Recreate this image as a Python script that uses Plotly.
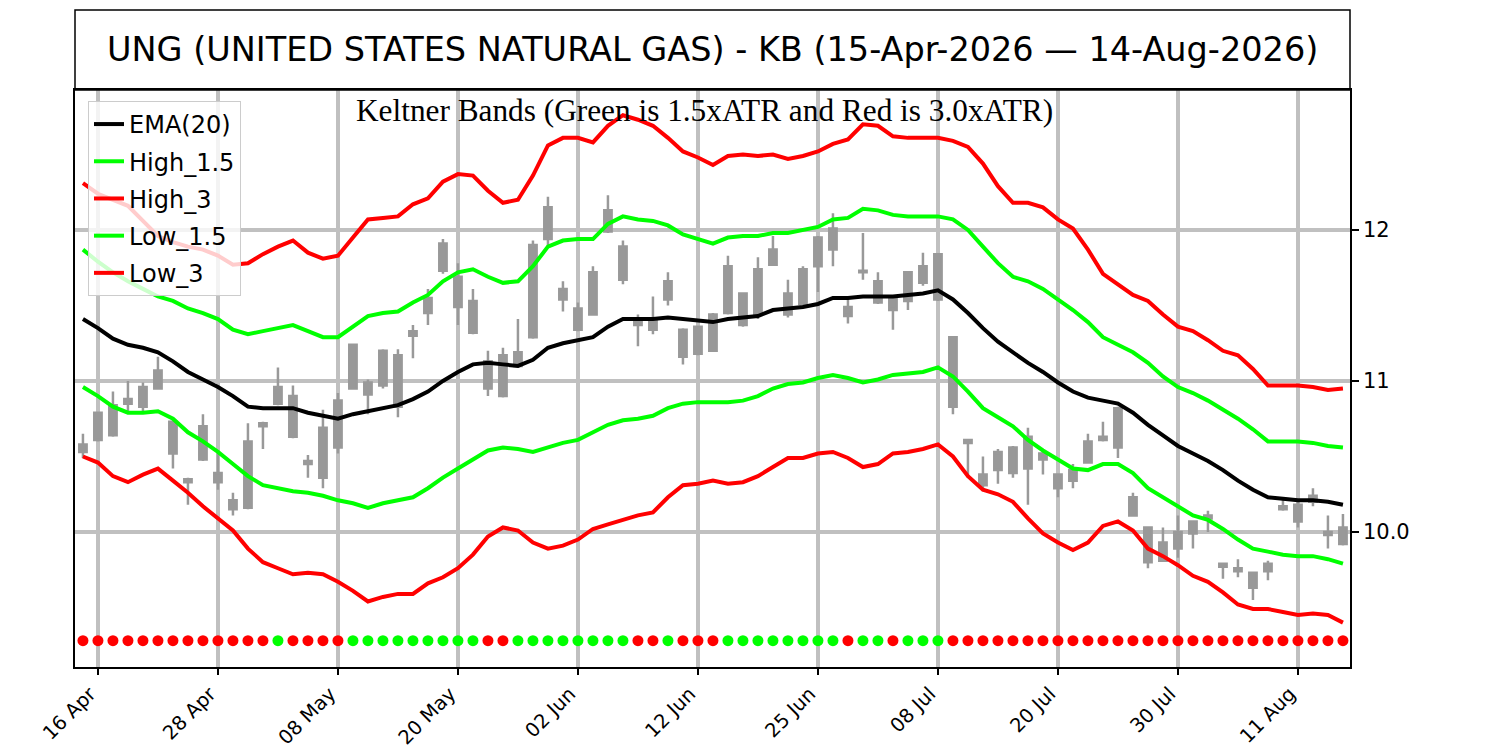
import pandas as pd
import plotly.graph_objects as go

# trading days 15-Apr-2026 .. 14-Aug-2026 (US market holidays removed)
holidays = ["2026-05-25", "2026-06-19", "2026-07-03"]
days = pd.bdate_range("2026-04-15", "2026-08-14")
days = days[~days.isin(pd.to_datetime(holidays))]
dates = [d.strftime("%Y-%m-%d") for d in days]

opens = [10.53, 10.61, 10.64, 10.85, 10.83, 10.95, 10.73, 10.35, 10.48, 10.39,
         10.21, 10.16, 10.70, 10.85, 10.90, 10.47, 10.36, 10.56, 10.95, 10.99,
         10.97, 11.17, 11.30, 11.45, 11.73, 11.69, 11.53, 11.13, 11.17, 11.10,
         11.29, 11.94, 11.61, 11.48, 11.44, 11.99, 11.89, 11.39, 11.41, 11.54,
         11.34, 11.18, 11.20, 11.45, 11.58, 11.44, 11.77, 11.58, 11.51, 11.76,
         11.87, 11.49, 11.72, 11.66, 11.56, 11.53, 11.65, 11.84, 11.29, 10.61,
         10.38, 10.41, 10.39, 10.42, 10.52, 10.38, 10.34, 10.46, 10.61, 10.56,
         10.23, 10.03, 9.93, 9.89, 9.99, 10.09, 9.79, 9.76, 9.73, 9.74,
         10.15, 10.18, 10.20, 10.00, 10.03]
highs = [10.65, 10.79, 10.93, 11.00, 10.99, 11.16, 10.73, 10.36, 10.78, 10.54,
         10.26, 10.72, 10.73, 11.09, 10.97, 10.51, 10.81, 10.92, 11.24, 11.01,
         11.21, 11.21, 11.37, 11.61, 11.94, 11.78, 11.61, 11.20, 11.22, 11.41,
         11.93, 12.22, 11.66, 11.52, 11.76, 12.23, 11.93, 11.44, 11.56, 11.72,
         11.35, 11.36, 11.45, 11.83, 11.58, 11.82, 11.96, 11.67, 11.76, 11.96,
         12.11, 11.55, 11.98, 11.72, 11.56, 11.72, 11.85, 11.84, 11.29, 10.61,
         10.50, 10.55, 10.57, 10.69, 10.53, 10.38, 10.45, 10.65, 10.73, 10.83,
         10.26, 10.03, 10.03, 10.11, 10.07, 10.14, 9.79, 9.82, 9.73, 9.81,
         10.22, 10.21, 10.29, 10.11, 10.12]
lows = [10.49, 10.60, 10.63, 10.80, 10.79, 10.95, 10.42, 10.18, 10.47, 10.28,
        10.11, 10.15, 10.55, 10.84, 10.62, 10.36, 10.29, 10.52, 10.95, 10.78,
        10.95, 10.76, 11.15, 11.37, 11.71, 11.37, 11.31, 10.90, 10.89, 11.09,
        11.28, 11.88, 11.46, 11.33, 11.44, 11.98, 11.64, 11.23, 11.31, 11.50,
        11.11, 11.17, 11.20, 11.44, 11.36, 11.41, 11.77, 11.42, 11.50, 11.59,
        11.76, 11.38, 11.67, 11.51, 11.34, 11.47, 11.63, 11.53, 10.78, 10.36,
        10.27, 10.32, 10.36, 10.18, 10.38, 10.23, 10.29, 10.46, 10.60, 10.49,
        10.11, 9.76, 9.81, 9.83, 9.89, 10.00, 9.69, 9.70, 9.55, 9.68,
        10.14, 10.03, 10.17, 9.89, 9.91]
closes = [10.58, 10.79, 10.84, 10.88, 10.96, 11.07, 10.52, 10.33, 10.70, 10.33,
          10.15, 10.60, 10.72, 10.96, 10.63, 10.45, 10.69, 10.87, 11.24, 10.91,
          11.20, 10.83, 11.33, 11.55, 11.91, 11.49, 11.32, 10.95, 10.90, 11.19,
          11.90, 12.15, 11.54, 11.34, 11.72, 12.13, 11.67, 11.37, 11.34, 11.66,
          11.16, 11.36, 11.44, 11.76, 11.37, 11.74, 11.87, 11.44, 11.74, 11.95,
          12.01, 11.43, 11.73, 11.52, 11.47, 11.72, 11.76, 11.54, 10.83, 10.59,
          10.31, 10.53, 10.56, 10.63, 10.48, 10.29, 10.41, 10.60, 10.63, 10.82,
          10.11, 9.80, 9.81, 10.00, 10.07, 10.11, 9.77, 9.74, 9.63, 9.79,
          10.17, 10.07, 10.24, 9.98, 9.92]

ema20 = [11.41, 11.35, 11.28, 11.24, 11.22, 11.19, 11.13, 11.06, 11.01, 10.96,
         10.90, 10.83, 10.82, 10.82, 10.82, 10.79, 10.77, 10.75, 10.78, 10.80,
         10.82, 10.84, 10.88, 10.93, 11.00, 11.06, 11.11, 11.12, 11.11, 11.10,
         11.14, 11.22, 11.25, 11.27, 11.29, 11.36, 11.41, 11.41, 11.41, 11.42,
         11.41, 11.40, 11.39, 11.41, 11.42, 11.43, 11.47, 11.48, 11.49, 11.51,
         11.55, 11.55, 11.56, 11.56, 11.56, 11.57, 11.58, 11.60, 11.54, 11.45,
         11.35, 11.26, 11.19, 11.12, 11.06, 10.99, 10.93, 10.89, 10.87, 10.85,
         10.79, 10.71, 10.64, 10.57, 10.52, 10.47, 10.41, 10.34, 10.28, 10.23,
         10.22, 10.21, 10.21, 10.20, 10.18]
high_15 = [11.87, 11.79, 11.72, 11.66, 11.61, 11.56, 11.53, 11.48, 11.45, 11.41,
           11.34, 11.31, 11.33, 11.35, 11.37, 11.33, 11.29, 11.29, 11.36, 11.43,
           11.45, 11.46, 11.52, 11.57, 11.66, 11.72, 11.74, 11.69, 11.65, 11.66,
           11.76, 11.89, 11.93, 11.94, 11.94, 12.04, 12.09, 12.07, 12.06, 12.03,
           11.97, 11.94, 11.91, 11.95, 11.96, 11.96, 11.98, 11.98, 12.00, 12.02,
           12.07, 12.08, 12.14, 12.13, 12.10, 12.09, 12.09, 12.09, 12.07, 12.00,
           11.89, 11.78, 11.69, 11.66, 11.61, 11.54, 11.47, 11.39, 11.29, 11.24,
           11.19, 11.12, 11.03, 10.96, 10.92, 10.87, 10.81, 10.75, 10.68, 10.60,
           10.60, 10.60, 10.59, 10.57, 10.56]
high_3 = [12.31, 12.24, 12.20, 12.16, 12.06, 11.96, 11.92, 11.89, 11.87, 11.83,
          11.77, 11.78, 11.84, 11.89, 11.93, 11.85, 11.81, 11.83, 11.95, 12.07,
          12.08, 12.09, 12.17, 12.21, 12.32, 12.37, 12.36, 12.26, 12.18, 12.20,
          12.36, 12.56, 12.61, 12.61, 12.58, 12.69, 12.76, 12.73, 12.69, 12.61,
          12.52, 12.48, 12.43, 12.49, 12.50, 12.49, 12.50, 12.47, 12.49, 12.52,
          12.57, 12.60, 12.70, 12.69, 12.62, 12.61, 12.61, 12.61, 12.59, 12.55,
          12.44, 12.29, 12.18, 12.18, 12.15, 12.07, 12.01, 11.87, 11.71, 11.64,
          11.57, 11.53, 11.44, 11.36, 11.33, 11.27, 11.20, 11.17, 11.08, 10.97,
          10.97, 10.97, 10.96, 10.94, 10.95]
low_15 = [10.96, 10.90, 10.83, 10.79, 10.79, 10.80, 10.75, 10.66, 10.60, 10.53,
          10.45, 10.37, 10.31, 10.29, 10.27, 10.26, 10.24, 10.21, 10.19, 10.16,
          10.19, 10.21, 10.23, 10.29, 10.36, 10.42, 10.48, 10.54, 10.56, 10.55,
          10.53, 10.56, 10.59, 10.61, 10.66, 10.71, 10.74, 10.75, 10.77, 10.82,
          10.85, 10.86, 10.86, 10.86, 10.87, 10.90, 10.95, 10.98, 10.99, 11.02,
          11.04, 11.02, 10.99, 11.01, 11.04, 11.05, 11.06, 11.09, 11.03, 10.93,
          10.82, 10.76, 10.70, 10.61, 10.54, 10.48, 10.42, 10.41, 10.45, 10.45,
          10.39, 10.29, 10.23, 10.17, 10.11, 10.08, 10.02, 9.95, 9.89, 9.87,
          9.85, 9.84, 9.84, 9.82, 9.79]
low_3 = [10.50, 10.46, 10.37, 10.33, 10.38, 10.42, 10.34, 10.26, 10.17, 10.09,
         10.01, 9.89, 9.80, 9.76, 9.72, 9.73, 9.72, 9.67, 9.61, 9.54,
         9.57, 9.59, 9.59, 9.66, 9.70, 9.76, 9.85, 9.97, 10.03, 10.01,
         9.93, 9.89, 9.91, 9.95, 10.02, 10.05, 10.08, 10.11, 10.13, 10.23,
         10.31, 10.32, 10.34, 10.32, 10.33, 10.37, 10.43, 10.49, 10.49, 10.52,
         10.53, 10.49, 10.43, 10.45, 10.52, 10.53, 10.55, 10.58, 10.50, 10.37,
         10.28, 10.25, 10.20, 10.09, 9.99, 9.93, 9.88, 9.93, 10.04, 10.07,
         10.01, 9.89, 9.84, 9.78, 9.71, 9.67, 9.60, 9.52, 9.49, 9.49,
         9.47, 9.45, 9.46, 9.45, 9.40]

# 1 = green dot, 0 = red dot
signal = [0] * 13 + [1] + [0] * 4 + [1] * 9 + [0] * 2 + [1] * 8 + [0] * 2 + [1] \
    + [0] * 3 + [1] * 8 + [0] + [1] * 2 + [0] + [1] * 3 + [0] * 27
signal_level = 9.28

tick_dates = dates[1::8]
tick_labels = [pd.Timestamp(d).strftime("%d %b") for d in tick_dates]

fig = go.Figure()

bands = [
    ("EMA(20)", ema20, "black"),
    ("High_1.5", high_15, "#00ff00"),
    ("High_3", high_3, "#ff0000"),
    ("Low_1.5", low_15, "#00ff00"),
    ("Low_3", low_3, "#ff0000"),
]
for name, vals, col in bands:
    fig.add_trace(go.Scatter(x=dates, y=vals, mode="lines", name=name,
                             legendgroup=name,
                             line=dict(color=col, width=4)))

grey = "#999999"
fig.add_trace(go.Candlestick(
    x=dates, open=opens, high=highs, low=lows, close=closes,
    increasing=dict(line=dict(color=grey, width=2.5), fillcolor=grey),
    decreasing=dict(line=dict(color=grey, width=2.5), fillcolor=grey),
    whiskerwidth=0, showlegend=False,
))

fig.add_trace(go.Scatter(
    x=dates, y=[signal_level] * len(dates), mode="markers", showlegend=False,
    marker=dict(size=11, color=["#00ff00" if s else "#ff0000" for s in signal]),
))

# the page adds an 8px body margin, so the figure is sized to land the
# axes at 75..1350 x 90..667 in the 1500x750 window
plot_h = 577
fig.add_shape(type="rect", xref="paper", yref="paper", x0=0, x1=1,
              y0=1, y1=1 + 80 / plot_h, line=dict(color="black", width=1.5))
fig.add_annotation(xref="paper", yref="paper", x=0.5, y=1 + 40 / plot_h,
                   text="UNG (UNITED STATES NATURAL GAS) - KB (15-Apr-2026 \u2014 14-Aug-2026)",
                   showarrow=False, yanchor="middle",
                   font=dict(family="DejaVu Sans", size=33.5, color="black"))
fig.add_annotation(xref="paper", yref="paper", x=0.494, y=1 - 20 / plot_h,
                   text="Keltner Bands (Green is 1.5xATR and Red is 3.0xATR)",
                   showarrow=False, yanchor="middle",
                   font=dict(family="Liberation Serif", size=31.3, color="black"))

fig.update_layout(
    width=1492, height=742,
    margin=dict(l=67, r=150, t=82, b=83),
    paper_bgcolor="white", plot_bgcolor="white",
    font=dict(family="DejaVu Sans", color="black"),
    boxgap=0.3,
    legend=dict(x=0.0102, y=0.981, xanchor="left", yanchor="top",
                bgcolor="rgba(255,255,255,0.8)", bordercolor="#cccccc",
                borderwidth=1, font=dict(size=24), tracegroupgap=3,
                traceorder="grouped", itemwidth=30),
    xaxis=dict(type="category", range=[-0.53, len(dates) - 0.53],
               rangeslider=dict(visible=False), automargin=False,
               tickvals=tick_dates, ticktext=tick_labels, tickangle=-45,
               tickfont=dict(size=19.5), ticks="outside", ticklen=6,
               tickwidth=1.5, tickcolor="black", ticklabelshift=-8,
               ticklabelstandoff=0,
               showgrid=True, gridcolor="#c0c0c0", gridwidth=4,
               showline=True, linecolor="black", linewidth=1.5, mirror=True),
    yaxis=dict(side="right", range=[9.106, 12.927], automargin=False,
               tickvals=[10, 11, 12], ticktext=["10.0", "11", "12"],
               tickfont=dict(size=21), ticks="outside", ticklen=7,
               tickwidth=1.5, tickcolor="black",
               showgrid=True, gridcolor="#c0c0c0", gridwidth=4, zeroline=False,
               showline=True, linecolor="black", linewidth=1.5, mirror=True),
)

fig.write_html("out.html")
